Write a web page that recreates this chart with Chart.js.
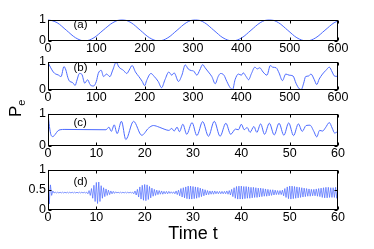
<!DOCTYPE html>
<html>
<head>
<meta charset="utf-8">
<script src="https://cdn.jsdelivr.net/npm/chart.js@4.4.1/dist/chart.umd.min.js"></script>
<style>
  html, body { margin: 0; padding: 0; background: #fff; }
  #fig { position: relative; width: 374px; height: 249px; overflow: hidden;
         font-family: "Liberation Sans", Arial, sans-serif; color: #000; }
  .panel { position: absolute; left: 0; }
  #ylab { position: absolute; left: 7px; top: 117px; transform-origin: left top;
          transform: rotate(-90deg); white-space: nowrap; font-size: 17px; line-height: 17px; }
  #ylab sub { font-size: 11px; vertical-align: -4px; }
  #xlab { position: absolute; left: 0; width: 386px; top: 224px; text-align: center;
          font-size: 18px; line-height: 18px; white-space: nowrap; }
</style>
</head>
<body>
<div id="fig">
  <canvas id="pa" class="panel"></canvas>
  <canvas id="pb" class="panel"></canvas>
  <canvas id="pc" class="panel"></canvas>
  <canvas id="pd" class="panel"></canvas>
  <div id="ylab">P<sub>e</sub></div>
  <div id="xlab">Time t</div>
</div>
<script>
// (a) 正弦型振荡, t 0..600
const aX = [0, 19, 38, 57, 76, 95, 114, 134, 153, 172, 191, 210, 229, 248, 267, 286,
            305, 324, 343, 362, 382, 401, 420, 439, 458, 477, 496, 515, 535, 554, 573, 592, 600];
const aY = [1, .85, .5, .15, 0, .15, .5, .85, 1, .85, .5, .15, 0, .15, .5, .85,
            1, .85, .5, .15, 0, .15, .5, .85, 1, .85, .5, .15, 0, .15, .5, .85, .93];

// (b) 不规则振荡, t 0..600
const bX = [0, 5, 11, 16, 21, 27, 33, 37, 41, 45, 50, 53, 56, 60, 65, 70, 76, 82, 87, 94,
            100, 104, 110, 115, 121, 128, 134, 141, 147, 156, 163, 168, 174, 181, 188, 195,
            200, 204, 213, 220, 228, 235, 242, 250, 256, 261, 270, 277, 284, 290, 297, 301,
            308, 314, 320, 325, 332, 339, 346, 352, 357, 364, 370, 377, 382, 387, 394, 400,
            404, 410, 415, 421, 428, 433, 438, 445, 453, 460, 465, 472, 478, 485, 492, 499,
            507, 513, 520, 524, 529, 533, 539, 544, 551, 556, 561, 568, 575, 582, 588, 592, 596, 600];
const bY = [.97, .8, .63, .56, .53, .47, .82, .7, .44, .3, .27, .22, .16, .35, .58, .55, .24, .36, .19, .14,
            .3, .58, .69, .47, .56, .47, .7, .97, .8, .69, .58, .7, .86, .63, .47, .3,
            .15, .33, .58, .47, .3, .08, .36, .63, .52, .6, .3, .52, .88, .74, .68, .67,
            .52, .7, .89, .78, .63, .47, .22, .47, .58, .52, .3, .08, .02, .36, .56, .52,
            .6, .47, .36, .58, .8, .74, .78, .63, .52, .86, .8, .78, .6, .33, .56, .52,
            .49, .24, .04, .02, .24, .47, .49, .56, .36, .19, .38, .56, .69, .8, .63, .5, .48, .48];

// (c) t 0..60
const cX = [0, .3, .6, 1, 1.5, 2, 2.5, 3.5, 12, 12.6, 13.1, 13.7, 14.3, 15.2, 16.1, 17.7, 19.4,
            20.8, 21.8, 23, 24.2, 25, 25.6, 26.1, 26.7, 27.2, 27.9, 28.7, 29.8, 30.8, 32, 33.2,
            34.4, 35.6, 36.8, 37.8, 38.8, 39.4, 40, 40.6, 41.2, 41.8, 42.6, 43.2, 44, 44.8, 45.8,
            46.8, 47.8, 48.8, 49.8, 50.8, 51.8, 52.6, 53.4, 54.2, 55, 55.6, 56.2, 56.8, 57.4,
            58.2, 58.8, 59.3, 60];
const cY = [1, .6, .35, .29, .36, .46, .5, .51, .5, .58, .45, .65, .38, .76, .2, .76, .33,
            .55, .63, .58, .51, .48, .54, .46, .58, .44, .67, .36, .72, .32, .75, .3,
            .76, .3, .7, .36, .52, .5, .67, .5, .57, .42, .6, .42, .68, .36, .7,
            .34, .7, .33, .71, .32, .68, .45, .63, .64, .45, .28, .48, .46, .56,
            .72, .55, .4, .45];

// (d) 采样间隔 0.25, t 0..60
const dStep = 0.25;
const dY = [
  1, .15, .62, .36, .47,
  .42, .44, .42, .44, .42, .44, .42, .44, .42, .44, .42, .44, .42, .44,
  .42, .44, .42, .44, .42, .44, .42, .44, .42, .44, .42, .44, .42, .44,
  .40, .48, .36, .53, .29, .61, .21, .68, .16, .69, .21, .60, .29, .55, .33, .52,
  .36, .49, .38, .47, .40, .46, .41, .45,
  .42, .44, .42, .44, .42, .44, .42, .44, .42, .44, .42, .44, .42, .44,
  .40, .47, .37, .51, .32, .57, .27, .61, .24, .63, .23, .62, .26, .58, .30, .54,
  .34, .51, .36, .49, .38, .48, .39, .47, .39, .46, .40, .46, .40, .46, .41, .45, .41, .45,
  .40, .47, .38, .49, .35, .53, .32, .55, .30, .57, .28, .59, .27, .59, .27, .58,
  .28, .57, .29, .56, .31, .54, .33, .52, .35, .50, .37, .48, .38, .47, .39, .47,
  .39, .47, .40, .46, .40, .46, .40, .46, .40, .46, .40, .47, .39, .48,
  .37, .51, .33, .55, .29, .58, .27, .59, .27, .59, .27, .58, .28, .58, .29, .57,
  .29, .56, .30, .56, .31, .55, .31, .54, .32, .54, .33, .53, .34, .52, .34, .51,
  .35, .50, .36, .50, .37, .49, .38, .48, .38, .48, .38, .49,
  .35, .53, .31, .57, .28, .59, .27, .59, .28, .58, .29, .57, .30, .56, .31, .55,
  .32, .54, .33, .53, .34, .52, .34, .51, .35, .51, .35, .52, .34, .53, .33, .54,
  .31, .55, .30, .56, .30, .56, .31, .55, .31, .55, .31, .56, .29, .57
];
const dX = dY.map((_, i) => i * dStep);

const LINE = 'rgb(75, 105, 255)';
const FONT = { family: '"Liberation Sans", Arial, sans-serif', size: 12.5 };
const PAD_T = 8;      // 画布顶部留白
const AXIS_H = 18;    // x 轴刻度标签高度
const PLOT_L = 48, PLOT_R = 338, W = 374;

// 边框、向内刻度和子图标签
function framePlugin(tag, tagDx, tagDy) {
  return {
    id: 'frame',
    afterDatasetsDraw(chart) {
      const { ctx, chartArea: a, scales } = chart;
      const l = Math.round(a.left) + 0.5, r = Math.round(a.right) - 0.5;
      const t = Math.round(a.top) + 0.5, b = Math.round(a.bottom) - 0.5;
      ctx.save();
      ctx.strokeStyle = '#000';
      ctx.lineWidth = 1;
      ctx.strokeRect(l, t, r - l, b - t);
      ctx.beginPath();
      scales.x.ticks.forEach(tk => {
        const px = Math.round(scales.x.getPixelForValue(tk.value)) + 0.5;
        ctx.moveTo(px, b); ctx.lineTo(px, b - 3);
        ctx.moveTo(px, t); ctx.lineTo(px, t + 3);
      });
      scales.y.ticks.forEach(tk => {
        const py = Math.round(scales.y.getPixelForValue(tk.value)) + 0.5;
        ctx.moveTo(l, py); ctx.lineTo(l + 3, py);
        ctx.moveTo(r, py); ctx.lineTo(r - 3, py);
      });
      ctx.stroke();
      ctx.fillStyle = '#000';
      ctx.font = '11.5px "Liberation Sans", Arial, sans-serif';
      ctx.textBaseline = 'middle';
      ctx.fillText(tag, a.left + tagDx, a.top + tagDy);
      ctx.restore();
    }
  };
}

function makePanel(id, top, bottom, xs, ys, xMax, xStep, tag, tagDy, smooth, lw) {
  const cv = document.getElementById(id);
  cv.width = W;
  cv.height = bottom - top + PAD_T + AXIS_H;
  cv.style.top = (top - PAD_T) + 'px';
  return new Chart(cv.getContext('2d'), {
    type: 'line',
    data: {
      datasets: [{
        data: xs.map((x, i) => ({ x: x, y: ys[i] })),
        borderColor: LINE,
        borderWidth: lw,
        pointRadius: 0,
        fill: false,
        tension: smooth ? 0.4 : 0,
        cubicInterpolationMode: smooth ? 'monotone' : 'default'
      }]
    },
    options: {
      responsive: false,
      animation: false,
      events: [],
      layout: { padding: { top: PAD_T, right: W - PLOT_R, left: 0, bottom: 0 } },
      plugins: { legend: { display: false }, tooltip: { enabled: false } },
      scales: {
        x: {
          type: 'linear', min: 0, max: xMax,
          ticks: { stepSize: xStep, font: FONT, color: '#000', padding: 0, maxRotation: 0, autoSkip: false },
          grid: { display: false, drawTicks: false },
          border: { display: false },
          afterFit: s => { s.height = AXIS_H; }
        },
        y: {
          min: 0, max: 1,
          ticks: { stepSize: 0.5, font: FONT, color: '#000', padding: 2,
                   callback: v => (v === 0.5 ? '0.5' : String(v)) },
          grid: { display: false, drawTicks: false },
          border: { display: false },
          afterFit: s => { s.width = PLOT_L; }
        }
      }
    },
    plugins: [framePlugin(tag, 25.5, tagDy)]
  });
}

makePanel('pa', 18, 41, aX, aY, 600, 100, '(a)', 5.5, true, 1);
makePanel('pb', 60, 90, bX, bY, 600, 100, '(b)', 6.5, true, 1);
makePanel('pc', 112, 146, cX, cY, 60, 10, '(c)', 9, true, 1);
makePanel('pd', 168, 210, dX, dY, 60, 10, '(d)', 12, false, 0.7);
</script>
</body>
</html>
